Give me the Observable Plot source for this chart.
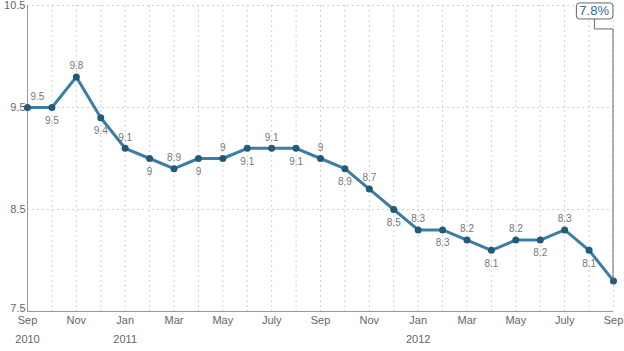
<!DOCTYPE html>
<html>
<head>
<meta charset="utf-8">
<script src="https://cdn.jsdelivr.net/npm/d3@7"></script>
<script src="https://cdn.jsdelivr.net/npm/@observablehq/plot@0.6"></script>
<style>
  html, body { margin: 0; padding: 0; background: #fff; }
  svg { font-family: "Liberation Sans", Arial, Helvetica, sans-serif; }
</style>
</head>
<body>
<div id="chart"></div>
<script>
const values = [9.5, 9.5, 9.8, 9.4, 9.1, 9.0, 8.9, 9.0, 9.0, 9.1, 9.1, 9.1, 9.0, 8.9, 8.7, 8.5, 8.3, 8.3, 8.2, 8.1, 8.2, 8.2, 8.3, 8.1, 7.8];
const monthLabels = ["Sep","Oct","Nov","Dec","Jan","Feb","Mar","Apr","May","June","July","Aug","Sep","Oct","Nov","Dec","Jan","Feb","Mar","Apr","May","June","July","Aug","Sep"];
const yearTickIndex = [0, 4, 16];
const yearLabels = ["2010", "2011", "2012"];
const yTicks = [8.5, 9.5, 10.5];
const yBottomTick = [7.5];
const annotationText = "7.8%";

const data = values.map((v, i) => ({i, v, label: String(v)}));
const above = data.filter(d => d.i % 2 === 0 && d.i > 0 && d.i < 24);
const firstLabel = data.filter(d => d.i === 0);
const below = data.filter(d => d.i % 2 === 1);
const monthTicks = d3.range(0, 25, 2);

const chart = Plot.plot({
  width: 624,
  height: 351,
  marginLeft: 27,
  marginRight: 11,
  marginTop: 5,
  marginBottom: 40,
  style: {fontFamily: '"Liberation Sans", Arial, Helvetica, sans-serif', fontSize: "11px", color: "#666"},
  x: {type: "linear", domain: [0, 24], label: null},
  y: {domain: [7.5, 10.5], label: null},
  marks: [
    Plot.ruleX(d3.range(1, 25), {stroke: "#d0d0d0", strokeDasharray: "2,3", strokeWidth: 1}),
    Plot.ruleY([8.5, 9.5, 10.5], {stroke: "#d0d0d0", strokeDasharray: "2,3", strokeWidth: 1}),
    Plot.ruleX([0], {stroke: "#999"}),
    Plot.ruleY([7.5], {stroke: "#999"}),
    Plot.axisY({ticks: yTicks, tickFormat: d => String(d), tickSize: 0, tickPadding: 2, fill: "#666", fontSize: 11, label: null}),
    Plot.axisY({ticks: yBottomTick, tickFormat: d => String(d), tickSize: 0, tickPadding: 2, dy: -3, fill: "#666", fontSize: 11, label: null}),
    Plot.axisX({ticks: monthTicks, tickFormat: i => monthLabels[i], tickSize: 0, tickPadding: 5, fill: "#666", fontSize: 11, label: null}),
    Plot.axisX({ticks: yearTickIndex, tickFormat: d => yearLabels[yearTickIndex.indexOf(d)], tickSize: 0, tickPadding: 24, fill: "#666", fontSize: 11, label: null}),
    Plot.line(data, {x: "i", y: "v", stroke: "#3a7ea6", strokeWidth: 3}),
    Plot.dot(data, {x: "i", y: "v", r: 3.5, fill: "#235a7a", stroke: "none"}),
    Plot.text(above, {x: "i", y: "v", text: "label", dy: -11, fill: "#777", fontSize: 10}),
    Plot.text(firstLabel, {x: "i", y: "v", text: "label", dy: -11, dx: 3, textAnchor: "start", fill: "#777", fontSize: 10}),
    Plot.text(below, {x: "i", y: "v", text: "label", dy: 13, fill: "#777", fontSize: 10})
  ]
});
document.getElementById("chart").append(chart);

// annotation box and connector, positioned through the plot's scales
const sx = chart.scale("x"), sy = chart.scale("y");
const svg = d3.select(chart);
const px = sx.apply(24), py = sy.apply(values[24]), topY = sy.apply(10.5);
const g = svg.append("g");
const rect = g.append("rect");
const txt = g.append("text")
  .attr("x", px - 4).attr("y", topY + 7)
  .attr("text-anchor", "end").attr("dominant-baseline", "middle")
  .attr("fill", "#2f6b92").attr("font-size", 13)
  .attr("font-family", '"Liberation Sans", Arial, Helvetica, sans-serif')
  .text(annotationText);
const bb = txt.node().getBBox();
const boxTop = bb.y - 0.5, boxBottom = bb.y + bb.height + 0.5;
rect.attr("x", bb.x - 3).attr("y", boxTop)
  .attr("width", bb.width + 6.5).attr("height", boxBottom - boxTop)
  .attr("rx", 3).attr("ry", 3)
  .attr("fill", "#fff").attr("stroke", "#666").attr("stroke-width", 1);
const cx = bb.x + bb.width / 2;
g.insert("path", "rect")
  .attr("d", `M${cx},${boxBottom} V${boxBottom + 10} H${px} V${py}`)
  .attr("fill", "none").attr("stroke", "#666").attr("stroke-width", 1);
</script>
</body>
</html>
